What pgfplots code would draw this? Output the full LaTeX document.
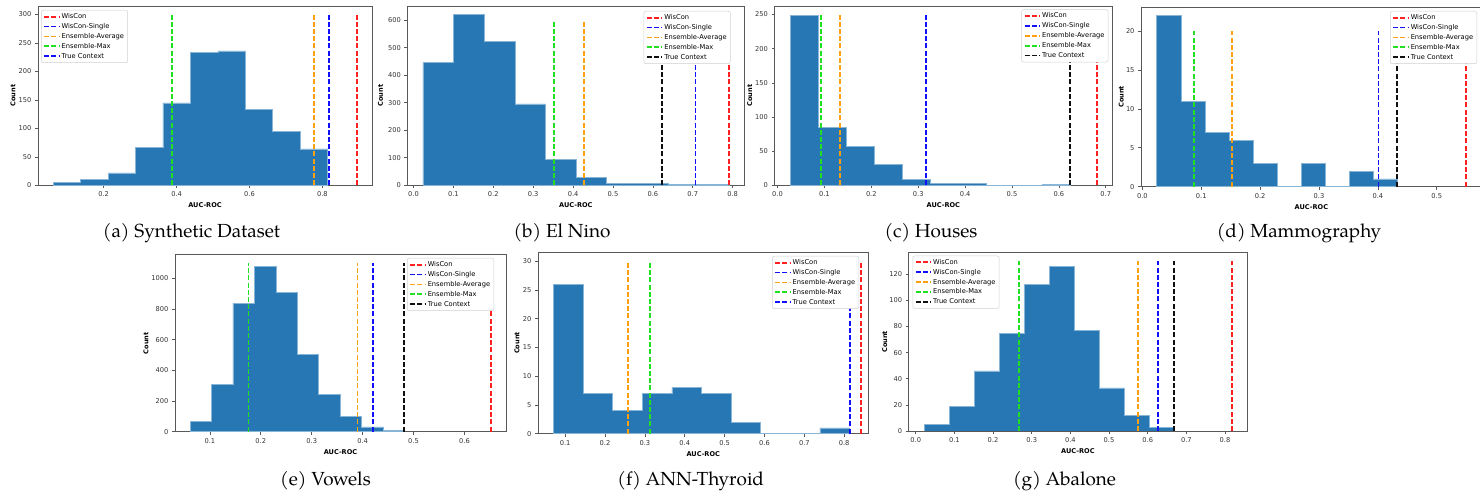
\documentclass[border=0pt]{standalone}
\usepackage{fontspec}
\setmainfont{DejaVu Sans}
\newfontfamily\pagella{texgyrepagella-regular.otf}
\usepackage{pgfplots}
\pgfplotsset{compat=1.18}

\definecolor{histblue}{HTML}{2777B4}
\definecolor{lred}{HTML}{FF2020}
\definecolor{lblue}{HTML}{1010FF}
\definecolor{lorange}{HTML}{FFA010}
\definecolor{lgreen}{HTML}{20E020}
\definecolor{lblack}{HTML}{101010}

% caption font: Palatino-like
\newcommand\capfont{\pagella\fontsize{19}{22}\selectfont}

\pgfplotsset{
  panel/.style={
    scale only axis,
    anchor=south west,
    axis line style={black!65, line width=0.7bp},
    tick align=outside,
    tick pos=left,
    major tick length=3.2bp,
    tick style={black!65, line width=0.6bp},
    ymin=0,
    scaled ticks=false,
    /pgf/number format/assume math mode=true,
    /pgf/number format/1000 sep={},
    ticklabel style={font=\fontsize{6.7}{8}\selectfont, text=black!80},
    xticklabel style={/pgf/number format/.cd, fixed, fixed zerofill, precision=1},
    yticklabel style={/pgf/number format/.cd, fixed, precision=0},
    xlabel={AUC-ROC}, ylabel={Count},
    label style={font=\bfseries\fontsize{6.6}{8}\selectfont},
    xlabel style={at={(axis description cs:0.5,0)}, anchor=center, yshift=-20bp},
    ylabel style={at={([xshift=-#1]axis description cs:0,0.5)}, anchor=center},
    legend cell align=left,
    legend style={font=\fontsize{6.7}{8}\selectfont, draw=black!18, line width=0.5bp,
      rounded corners=2bp, fill=white,
      inner xsep=2bp, inner ysep=1.5bp,
      nodes={inner sep=1.6bp, text height=5.2bp, text depth=1.5bp}},
    legend image code/.code={\draw[##1] (0bp,0bp) -- (15bp,0bp);},
  },
  vl/.style={line width=1.8bp, dash pattern=on 5bp off 2.2bp},
  hist/.style={const plot mark left, fill=histblue, draw=histblue!55!white, line width=0.5bp, forget plot},
}

\begin{document}
\begin{tikzpicture}
\useasboundingbox (0,0) rectangle (1480bp,498bp);

%---------------- (a) Synthetic Dataset
\begin{axis}[panel=25bp, at={(38bp,312.7bp)}, width=334bp, height=179.3bp,
  xmin=0.020, xmax=0.936, ymax=315,
  xtick={0.2,0.4,0.6,0.8}, ytick={0,50,...,300},
  legend style={at={(0,1)}, anchor=north west, xshift=3bp, yshift=-4bp}]
\addplot[hist] coordinates {(0.062,5) (0.1372,10) (0.2124,22) (0.2876,66) (0.3628,145)
  (0.438,233) (0.5132,236) (0.5884,134) (0.6636,95) (0.7388,64) (0.814,64)} \closedcycle;
\addplot[vl, draw=lred] coordinates {(0.894,0) (0.894,300)}; \addlegendentry{WisCon}
\addplot[vl, draw=lblue] coordinates {(0.818,0) (0.818,300)}; \addlegendentry{WisCon-Single}
\addplot[vl, draw=lorange] coordinates {(0.778,0) (0.778,300)}; \addlegendentry{Ensemble-Average}
\addplot[vl, draw=lgreen] coordinates {(0.388,0) (0.388,300)}; \addlegendentry{Ensemble-Max}
\addplot[vl, draw=lblue] coordinates {(0.818,0) (0.818,300)}; \addlegendentry{True Context}
\end{axis}

%---------------- (b) El Nino
\begin{axis}[panel=27bp, at={(407.5bp,312.7bp)}, width=336.7bp, height=179.3bp,
  xmin=-0.015, xmax=0.829, ymax=652,
  xtick={0,0.1,...,0.8}, ytick={0,100,...,600},
  legend style={at={(1,1)}, anchor=north east, xshift=-13.6bp, yshift=-5bp}]
\addplot[hist] coordinates {(0.0235,447) (0.1003,621) (0.1771,523) (0.2539,296) (0.3307,93)
  (0.4075,28) (0.4843,7) (0.5611,6) (0.6379,3) (0.7147,3) (0.7915,3)} \closedcycle;
\addplot[vl, draw=lred] coordinates {(0.791,0) (0.791,600)}; \addlegendentry{WisCon}
\addplot[vl, draw=lblue] coordinates {(0.707,0) (0.707,600)}; \addlegendentry{WisCon-Single}
\addplot[vl, draw=lorange] coordinates {(0.428,0) (0.428,600)}; \addlegendentry{Ensemble-Average}
\addplot[vl, draw=lgreen] coordinates {(0.353,0) (0.353,600)}; \addlegendentry{Ensemble-Max}
\addplot[vl, draw=lblack] coordinates {(0.622,0) (0.622,600)}; \addlegendentry{True Context}
\end{axis}

%---------------- (c) Houses
\begin{axis}[panel=25bp, at={(774.7bp,312.7bp)}, width=337.3bp, height=179.3bp,
  xmin=-0.006, xmax=0.7133, ymax=262.5,
  xtick={0,0.1,...,0.7}, ytick={0,50,...,250},
  legend style={at={(1,1)}, anchor=north east, xshift=-3.7bp, yshift=-3.3bp}]
\addplot[hist] coordinates {(0.0267,249) (0.0864,85) (0.1461,57) (0.2058,31) (0.2655,9)
  (0.3252,3) (0.3849,3) (0.4446,0) (0.5043,0) (0.564,1) (0.6237,1)} \closedcycle;
\addplot[vl, draw=lred] coordinates {(0.681,0) (0.681,250)}; \addlegendentry{WisCon}
\addplot[vl, draw=lblue] coordinates {(0.317,0) (0.317,250)}; \addlegendentry{WisCon-Single}
\addplot[vl, draw=lorange] coordinates {(0.133,0) (0.133,250)}; \addlegendentry{Ensemble-Average}
\addplot[vl, draw=lgreen] coordinates {(0.092,0) (0.092,250)}; \addlegendentry{Ensemble-Max}
\addplot[vl, draw=lblack] coordinates {(0.624,0) (0.624,250)}; \addlegendentry{True Context}
\end{axis}

%---------------- (d) Mammography
\begin{axis}[panel=20bp, at={(1141.2bp,311.3bp)}, width=340.4bp, height=179.7bp,
  xmin=-0.0019, xmax=0.5763, ymax=23.1,
  xtick={0,0.1,...,0.5}, ytick={0,5,...,20},
  legend style={at={(1,1)}, anchor=north east, xshift=-4.6bp, yshift=-4bp}]
\addplot[hist] coordinates {(0.0244,22) (0.0653,11) (0.1062,7) (0.1471,6) (0.188,3)
  (0.2289,0) (0.2698,3) (0.3107,0) (0.3516,2) (0.3925,1) (0.4334,1)} \closedcycle;
\addplot[vl, draw=lred] coordinates {(0.55,0) (0.55,20)}; \addlegendentry{WisCon}
\addplot[vl, draw=lblue] coordinates {(0.401,0) (0.401,20)}; \addlegendentry{WisCon-Single}
\addplot[vl, draw=lorange] coordinates {(0.152,0) (0.152,20)}; \addlegendentry{Ensemble-Average}
\addplot[vl, draw=lgreen] coordinates {(0.088,0) (0.088,20)}; \addlegendentry{Ensemble-Max}
\addplot[vl, draw=lblack] coordinates {(0.433,0) (0.433,20)}; \addlegendentry{True Context}
\end{axis}

%---------------- (e) Vowels
\begin{axis}[panel=29bp, at={(175bp,66.3bp)}, width=331bp, height=177bp,
  xmin=0.0315, xmax=0.6816, ymax=1155,
  xtick={0.1,0.2,...,0.6}, ytick={0,200,...,1000},
  legend style={at={(1,1)}, anchor=north east, xshift=-12bp, yshift=-3.3bp}]
\addplot[hist] coordinates {(0.061,65) (0.1031,308) (0.1452,837) (0.1873,1080) (0.2294,908)
  (0.2715,506) (0.3136,246) (0.3557,100) (0.3978,32) (0.4399,10) (0.482,10)} \closedcycle;
\addplot[vl, draw=lred] coordinates {(0.652,0) (0.652,1100)}; \addlegendentry{WisCon}
\addplot[vl, draw=lblue] coordinates {(0.420,0) (0.420,1100)}; \addlegendentry{WisCon-Single}
\addplot[vl, draw=lorange] coordinates {(0.390,0) (0.390,1100)}; \addlegendentry{Ensemble-Average}
\addplot[vl, draw=lgreen] coordinates {(0.176,0) (0.176,1100)}; \addlegendentry{Ensemble-Max}
\addplot[vl, draw=lblack] coordinates {(0.482,0) (0.482,1100)}; \addlegendentry{True Context}
\end{axis}

%---------------- (f) ANN-Thyroid
\begin{axis}[panel=21bp, at={(538bp,64.3bp)}, width=330.5bp, height=181.3bp,
  xmin=0.032, xmax=0.861, ymax=31.5,
  xtick={0.1,0.2,...,0.8}, ytick={0,5,...,30},
  legend style={at={(1,1)}, anchor=north east, xshift=-9.5bp, yshift=-3.6bp}]
\addplot[hist] coordinates {(0.0707,26) (0.1449,7) (0.2192,4) (0.2934,7) (0.3676,8)
  (0.4419,7) (0.5161,2) (0.5903,0) (0.6646,0) (0.7388,1) (0.813,1)} \closedcycle;
\addplot[vl, draw=lred] coordinates {(0.842,0) (0.842,30)}; \addlegendentry{WisCon}
\addplot[vl, draw=lblue] coordinates {(0.814,0) (0.814,30)}; \addlegendentry{WisCon-Single}
\addplot[vl, draw=lorange] coordinates {(0.258,0) (0.258,30)}; \addlegendentry{Ensemble-Average}
\addplot[vl, draw=lgreen] coordinates {(0.312,0) (0.312,30)}; \addlegendentry{Ensemble-Max}
\addplot[vl, draw=lblue] coordinates {(0.814,0) (0.814,30)}; \addlegendentry{True Context}
\end{axis}

%---------------- (g) Abalone
\begin{axis}[panel=24bp, at={(908.8bp,67bp)}, width=338.2bp, height=178.3bp,
  xmin=-0.0178, xmax=0.8568, ymax=136.5,
  xtick={0,0.1,...,0.8}, ytick={0,20,...,120},
  legend style={at={(0,1)}, anchor=north west, xshift=3.7bp, yshift=-3bp}]
\addplot[hist] coordinates {(0.022,5) (0.0867,19) (0.1514,46) (0.2161,75) (0.2808,112)
  (0.3455,126) (0.4102,77) (0.4749,33) (0.5396,12) (0.6043,3) (0.669,3)} \closedcycle;
\addplot[vl, draw=lred] coordinates {(0.817,0) (0.817,130)}; \addlegendentry{WisCon}
\addplot[vl, draw=lblue] coordinates {(0.626,0) (0.626,130)}; \addlegendentry{WisCon-Single}
\addplot[vl, draw=lorange] coordinates {(0.575,0) (0.575,130)}; \addlegendentry{Ensemble-Average}
\addplot[vl, draw=lgreen] coordinates {(0.267,0) (0.267,130)}; \addlegendentry{Ensemble-Max}
\addplot[vl, draw=lblack] coordinates {(0.669,0) (0.669,130)}; \addlegendentry{True Context}
\end{axis}

% captions
\node[anchor=base] at (191.5bp,260bp) {\capfont (a) Synthetic Dataset};
\node[anchor=base] at (562bp,260bp) {\capfont (b) El Nino};
\node[anchor=base] at (931bp,260bp) {\capfont (c) Houses};
\node[anchor=base] at (1299bp,260bp) {\capfont (d) Mammography};
\node[anchor=base] at (325.5bp,12.5bp) {\capfont (e) Vowels};
\node[anchor=base] at (690.7bp,12.5bp) {\capfont (f) ANN-Thyroid};
\node[anchor=base] at (1064.5bp,12.5bp) {\capfont (g) Abalone};
\end{tikzpicture}
\end{document}
